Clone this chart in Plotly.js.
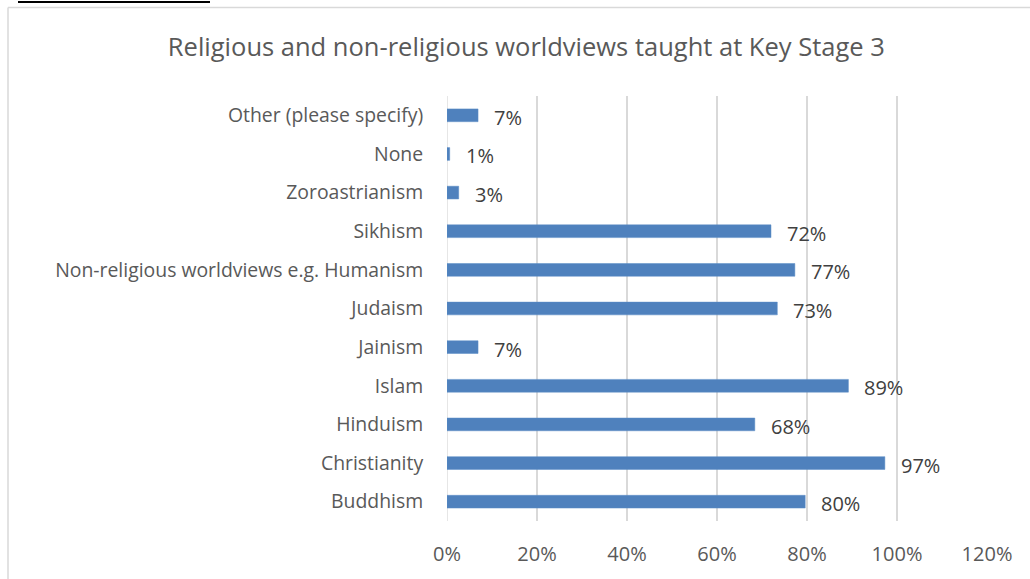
<!DOCTYPE html>
<html>
<head>
<meta charset="utf-8">
<script src="https://cdn.plot.ly/plotly-3.0.1.min.js"></script>
<style>
html,body{margin:0;padding:0;background:#fff;}
#chart{width:1030px;height:579px;}
</style>
</head>
<body>
<div id="chart"></div>
<script>
const categories = ["Buddhism", "Christianity", "Hinduism", "Islam", "Jainism", "Judaism",
  "Non-religious worldviews e.g. Humanism", "Sikhism", "Zoroastrianism", "None", "Other (please specify)"];
const values = [79.6, 97.3, 68.4, 89.2, 6.9, 73.4, 77.3, 72.0, 2.6, 0.6, 6.9];
const tickVals = [0, 20, 40, 60, 80, 100, 120];
const tickText = ["0%", "20%", "40%", "60%", "80%", "100%", "120%"];
const chartTitle = "Religious and non-religious worldviews taught at Key Stage 3";

const W = 1030, H = 579;
const L = 447, R = 987, T = 95.6, B = 521.4;
const px = x => (x - L) / (R - L);
const py = y => (B - y) / (B - T);

const FONT = "Open Sans, Lato, sans-serif";

const annotations = categories.map((c, i) => ({
  x: values[i], y: c, xref: 'x', yref: 'y',
  text: Math.round(values[i]) + '%',
  showarrow: false, xanchor: 'left', yanchor: 'middle',
  xshift: 14, yshift: -2,
  font: {family: FONT, size: 20, color: '#404040'}
}));

const shapes = [
  {type: 'line', xref: 'paper', yref: 'paper', x0: px(8), x1: px(8), y0: py(580), y1: py(7),
   line: {color: '#d9d9d9', width: 1.5}},
  {type: 'line', xref: 'paper', yref: 'paper', x0: px(8), x1: px(1032), y0: py(7), y1: py(7),
   line: {color: '#d9d9d9', width: 1.5}},
  {type: 'line', xref: 'paper', yref: 'paper', x0: px(18), x1: px(210), y0: py(1.5), y1: py(1.5),
   line: {color: '#000000', width: 2}},
  {type: 'line', xref: 'x', yref: 'paper', x0: 0, x1: 0, y0: 0, y1: 1,
   line: {color: '#d9d9d9', width: 1.3}, layer: 'below'}
];

const trace = {
  type: 'bar', orientation: 'h',
  x: values, y: categories,
  marker: {color: '#4f81bd', line: {color: '#5b8cc6', width: 0.5}},
  hoverinfo: 'none'
};

const layout = {
  width: W, height: H,
  margin: {l: L, r: W - R, t: T, b: H - B, pad: 0},
  paper_bgcolor: '#ffffff', plot_bgcolor: '#ffffff',
  showlegend: false,
  bargap: 0.67,
  title: {text: chartTitle, x: 0.511, xanchor: 'center', y: 1 - 47 / H, yanchor: 'middle',
    font: {family: FONT, size: 25.5, color: '#595959'}},
  xaxis: {range: [0, 120], tickvals: tickVals, ticktext: tickText,
    showgrid: true, gridcolor: '#d9d9d9', gridwidth: 1.3,
    zeroline: false, showline: false, ticks: 'outside', ticklen: 15, tickcolor: 'rgba(0,0,0,0)',
    tickfont: {family: FONT, size: 20, color: '#595959'}, automargin: false},
  yaxis: {type: 'category', categoryorder: 'array', categoryarray: categories,
    range: [-0.5, categories.length - 0.5],
    showgrid: false, zeroline: false, showline: false,
    ticks: 'outside', ticklen: 19, tickcolor: 'rgba(0,0,0,0)',
    tickfont: {family: FONT, size: 19.4, color: '#595959'}, automargin: false},
  annotations: annotations,
  shapes: shapes
};

Plotly.newPlot('chart', [trace], layout, {displayModeBar: false, staticPlot: true});
</script>
</body>
</html>
